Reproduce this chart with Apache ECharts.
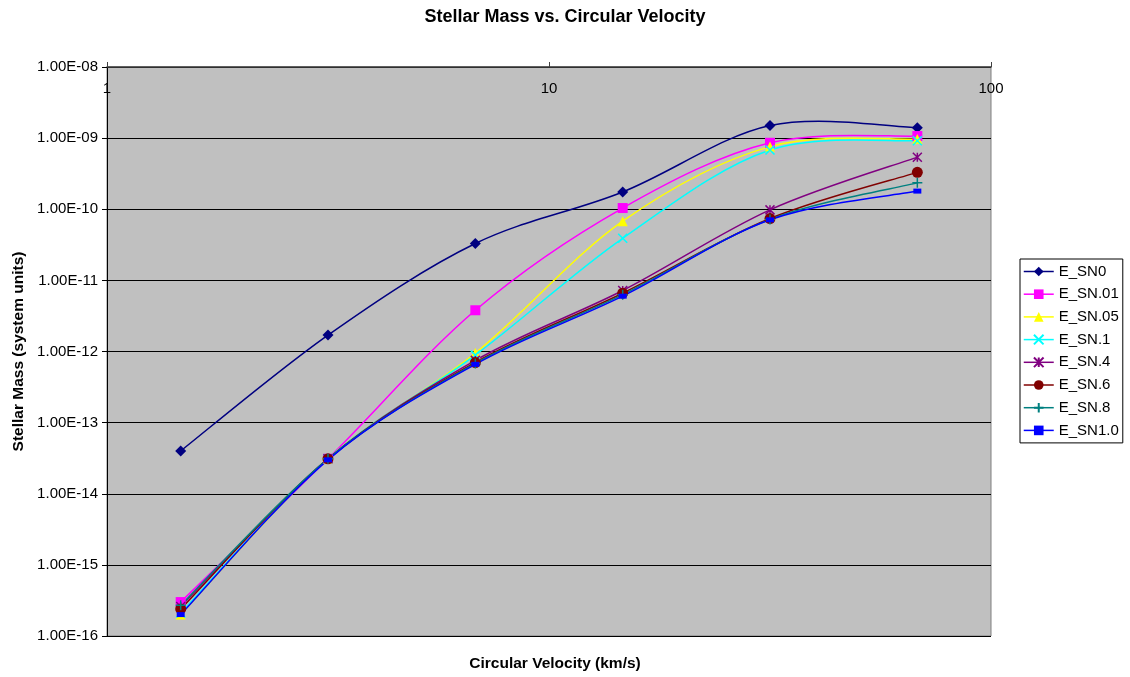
<!DOCTYPE html>
<html>
<head>
<meta charset="utf-8">
<script src="https://cdn.jsdelivr.net/npm/echarts@6/dist/echarts.min.js"></script>
<style>
html,body{margin:0;padding:0;background:#fff;}
#chart{width:1130px;height:677px;}
</style>
</head>
<body>
<div id="chart"></div>
<script>
var titleText = 'Stellar Mass vs. Circular Velocity';
var xAxisTitle = 'Circular Velocity (km/s)';
var yAxisTitle = 'Stellar Mass (system units)';

var velocity = [1.468, 3.162, 6.813, 14.68, 31.62, 68.13];

var seriesNames = ['E_SN0', 'E_SN.01', 'E_SN.05', 'E_SN.1', 'E_SN.4', 'E_SN.6', 'E_SN.8', 'E_SN1.0'];

var E_SN0   = [4.0e-14, 1.7e-12, 3.3e-11, 1.75e-10, 1.5e-9, 1.4e-9];
var E_SN01  = [3.0e-16, 3.1e-14, 3.8e-12, 1.04e-10, 8.6e-10, 1.07e-9];
var E_SN05  = [2.0e-16, 3.1e-14, 9.5e-13, 6.8e-11, 7.6e-10, 9.7e-10];
var E_SN1   = [2.1e-16, 3.1e-14, 8.9e-13, 3.9e-11, 6.8e-10, 9.2e-10];
var E_SN4   = [2.6e-16, 3.1e-14, 7.5e-13, 7.2e-12, 9.8e-11, 5.4e-10];
var E_SN6   = [2.4e-16, 3.1e-14, 7.0e-13, 6.6e-12, 7.4e-11, 3.3e-10];
var E_SN8   = [2.7e-16, 3.1e-14, 6.8e-13, 6.3e-12, 7.2e-11, 2.35e-10];
var E_SN10  = [2.0e-16, 3.0e-14, 6.6e-13, 6.0e-12, 7.1e-11, 1.8e-10];

var allValues = [E_SN0, E_SN01, E_SN05, E_SN1, E_SN4, E_SN6, E_SN8, E_SN10];

var colors = ['#000080', '#FF00FF', '#FFFF00', '#00FFFF', '#800080', '#800000', '#008080', '#0000FF'];
var symX = 'path://M0,0L10,10M10,0L0,10';
var symStar = 'path://M0,0L10,10M10,0L0,10M5,0L5,10';
var symPlus = 'path://M5,0L5,10M0,5L10,5';
var symbols = ['diamond', 'rect', 'triangle', symX, symStar, 'circle', symPlus, 'rect'];
var symbolSizes = [11, 10, 10, 9, 9, 11, 10, [8, 5]];
var strokeSym = [false, false, false, true, true, false, true, false];

var FONT = 'Liberation Sans, Arial, sans-serif';
var chart = echarts.init(document.getElementById('chart'), null, {renderer: 'canvas'});

function pairs(arr) {
  return velocity.map(function (v, i) { return [v, arr[i]]; });
}

// Excel-like smoothed curve (Catmull-Rom style Bezier) through the points,
// positioned with the chart's own axes via api.coord.
function makeCurveRenderer(k) {
  return function (params, api) {
    if (params.dataIndex !== 0) return null;
    var vals = allValues[k];
    var pts = velocity.map(function (v, j) { return api.coord([v, vals[j]]); });
    var n = pts.length;
    var d = 'M' + pts[0][0] + ',' + pts[0][1];
    for (var i = 0; i < n - 1; i++) {
      var p0 = pts[i - 1] || pts[i];
      var p1 = pts[i];
      var p2 = pts[i + 1];
      var p3 = pts[i + 2] || pts[i + 1];
      var c1x = p1[0] + (p2[0] - p0[0]) / 6;
      var c1y = p1[1] + (p2[1] - p0[1]) / 6;
      var c2x = p2[0] - (p3[0] - p1[0]) / 6;
      var c2y = p2[1] - (p3[1] - p1[1]) / 6;
      d += 'C' + c1x + ',' + c1y + ',' + c2x + ',' + c2y + ',' + p2[0] + ',' + p2[1];
    }
    return {
      type: 'path',
      shape: {pathData: d},
      style: {stroke: colors[k], fill: 'none', lineWidth: 1.5}
    };
  };
}

var series = [];
seriesNames.forEach(function (name, i) {
  series.push({
    name: name + ' curve',
    type: 'custom',
    data: pairs(allValues[i]),
    encode: {x: 0, y: 1},
    renderItem: makeCurveRenderer(i),
    clip: false,
    silent: true
  });
  series.push({
    name: name,
    type: 'line',
    data: pairs(allValues[i]),
    symbol: symbols[i],
    symbolSize: symbolSizes[i],
    showSymbol: true,
    showAllSymbol: true,
    lineStyle: {color: colors[i], width: 1.5, opacity: 0},
    itemStyle: strokeSym[i]
      ? {color: colors[i], borderColor: colors[i], borderWidth: 1.5}
      : {color: colors[i], borderWidth: 0},
    emphasis: {disabled: true}
  });
});

function yFmt(v) {
  var e = Math.round(Math.log10(v));
  var a = Math.abs(e);
  return '1.00E' + (e < 0 ? '-' : '+') + (a < 10 ? '0' + a : '' + a);
}

chart.setOption({
  animation: false,
  backgroundColor: '#ffffff',
  textStyle: {fontFamily: FONT},
  title: [
    {text: titleText, left: 'center', top: 3,
     textStyle: {fontSize: 18, fontWeight: 'bold', color: '#000', fontFamily: FONT}},
    {text: xAxisTitle, left: 550, textAlign: 'center', top: 651,
     textStyle: {fontSize: 15.5, fontWeight: 'bold', color: '#000', fontFamily: FONT}}
  ],
  legend: {
    orient: 'vertical',
    left: 1020,
    top: 259,
    padding: [5, 4, 5, 3],
    backgroundColor: '#ffffff',
    borderColor: '#000000',
    borderWidth: 1,
    itemWidth: 30,
    itemHeight: 12,
    itemGap: 7.7,
    lineStyle: {opacity: 1, width: 1.5},
    textStyle: {fontSize: 15, color: '#000', fontFamily: FONT},
    data: seriesNames
  },
  grid: {
    left: 107, top: 67, width: 884, height: 569,
    show: true, backgroundColor: '#C0C0C0', borderColor: '#808080', borderWidth: 1
  },
  xAxis: {
    type: 'log',
    logBase: 10,
    min: 1,
    max: 100,
    interval: 1,
    position: 'top',
    axisLine: {show: true, lineStyle: {color: '#404040', width: 1.5}},
    axisTick: {show: true, inside: false, length: 5, lineStyle: {color: '#404040'}},
    axisLabel: {inside: true, margin: 14, fontSize: 15, color: '#000', fontFamily: FONT},
    splitLine: {show: false},
    minorTick: {show: false}
  },
  yAxis: {
    type: 'log',
    logBase: 10,
    min: 1e-16,
    max: 1e-8,
    interval: 1,
    name: yAxisTitle,
    nameLocation: 'middle',
    nameGap: 80,
    nameTextStyle: {fontSize: 15.5, fontWeight: 'bold', color: '#000', fontFamily: FONT},
    axisLine: {show: true, lineStyle: {color: '#000', width: 1}},
    axisTick: {show: true, inside: false, length: 5, lineStyle: {color: '#000'}},
    axisLabel: {formatter: yFmt, margin: 9, fontSize: 15, color: '#000', fontFamily: FONT},
    splitLine: {show: true, lineStyle: {color: '#000', width: 1}}
  },
  series: series
});
</script>
</body>
</html>
